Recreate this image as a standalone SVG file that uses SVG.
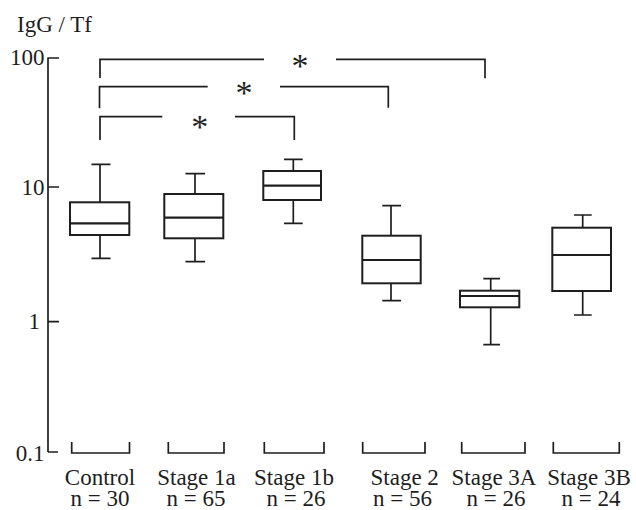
<svg xmlns="http://www.w3.org/2000/svg" width="636" height="510" viewBox="0 0 636 510">
<style>
.ln{fill:none;stroke:#1e1e1e;stroke-width:1.7;stroke-linecap:butt}
.bx{fill:none;stroke:#1e1e1e;stroke-width:2}
.md{stroke:#1e1e1e;stroke-width:2.2}
.c{text-anchor:middle}
.r{text-anchor:end}
.ast{font-size:34px;text-anchor:middle}
</style>
<rect width="636" height="510" fill="#fff"/>
<g font-family="Liberation Serif, Times New Roman, serif" font-size="23" fill="#1e1e1e">
<g id="axis">
<text x="17" y="32">IgG / Tf</text>
<path class="ln" d="M48,57.5 V452 M48,58 H59 M48,187 H59 M48,321.7 H59 M48,452 H58"/>
<text class="r" x="44.5" y="65">100</text>
<text class="r" x="44.5" y="195">10</text>
<text class="r" x="40" y="329">1</text>
<text class="r" x="44.5" y="461">0.1</text>
</g>
<g id="control">
<path class="ln" d="M100,164.3 V202.3 M100,235 V258.3 M91.5,164.3 H110.5 M91.5,258.3 H110.5"/>
<rect class="bx" x="70" y="202.3" width="59.3" height="32.7"/>
<line class="md" x1="70" y1="223.3" x2="129.3" y2="223.3"/>
<path class="ln" d="M71.7,442 V453 H129.5 V442"/>
<text class="c" x="100" y="485">Control</text>
<text class="c" x="100" y="506">n = 30</text>
</g>
<g id="stage1a">
<path class="ln" d="M195,173.7 V194 M195,238.3 V261.7 M185.5,173.7 H205 M185.5,261.7 H205"/>
<rect class="bx" x="164.3" y="194" width="59" height="44.3"/>
<line class="md" x1="164.3" y1="217.7" x2="223.3" y2="217.7"/>
<path class="ln" d="M168.3,442 V453 H224 V442"/>
<text class="c" x="196.5" y="485">Stage 1a</text>
<text class="c" x="196" y="506">n = 65</text>
</g>
<g id="stage1b">
<path class="ln" d="M293.3,159.3 V171 M293.3,200 V223.3 M284,159.3 H302.7 M284,223.3 H302.7"/>
<rect class="bx" x="263.3" y="171" width="57.7" height="29"/>
<line class="md" x1="263.3" y1="185.7" x2="321" y2="185.7"/>
<path class="ln" d="M264.3,442 V453 H324 V442"/>
<text class="c" x="294" y="485">Stage 1b</text>
<text class="c" x="296" y="506">n = 26</text>
</g>
<g id="stage2">
<path class="ln" d="M391,205.7 V235.7 M391,283.3 V300.7 M382.3,205.7 H401 M382.3,300.7 H401"/>
<rect class="bx" x="362.3" y="235.7" width="58.4" height="47.6"/>
<line class="md" x1="362.3" y1="260" x2="420.7" y2="260"/>
<path class="ln" d="M362.7,442 V453 H425 V442"/>
<text class="c" x="404.7" y="485">Stage 2</text>
<text class="c" x="402.5" y="506">n = 56</text>
</g>
<g id="stage3a">
<path class="ln" d="M490.7,278.7 V290.7 M490.7,307.3 V344.7 M483.3,278.7 H500 M483.3,344.7 H500"/>
<rect class="bx" x="460" y="290.7" width="59.3" height="16.6"/>
<line class="md" x1="460" y1="296" x2="519.3" y2="296"/>
<path class="ln" d="M461.7,442 V453 H525 V442"/>
<text class="c" x="494" y="485">Stage 3A</text>
<text class="c" x="496" y="506">n = 26</text>
</g>
<g id="stage3b">
<path class="ln" d="M582.7,215 V227.7 M582.7,291 V315 M574,215 H591.7 M574,315 H591.7"/>
<rect class="bx" x="552.3" y="227.7" width="58.7" height="63.3"/>
<line class="md" x1="552.3" y1="255" x2="611" y2="255"/>
<path class="ln" d="M553.3,442 V453 H619.3 V442"/>
<text class="c" x="589" y="485">Stage 3B</text>
<text class="c" x="591" y="506">n = 24</text>
</g>
<g id="connectors">
<path class="ln" d="M100,78 V59.3 H264 M336,59.3 H485 V78.3"/>
<text class="ast" x="300" y="76.6">*</text>
<path class="ln" d="M99.5,108.3 V86.7 H207.7 M280,86.7 H388.3 V107.7"/>
<text class="ast" x="244" y="103.6">*</text>
<path class="ln" d="M100,140 V116.7 H162.3 M235,116.7 H294.3 V140"/>
<text class="ast" x="199.7" y="137.6">*</text>
</g>
</g>
</svg>
